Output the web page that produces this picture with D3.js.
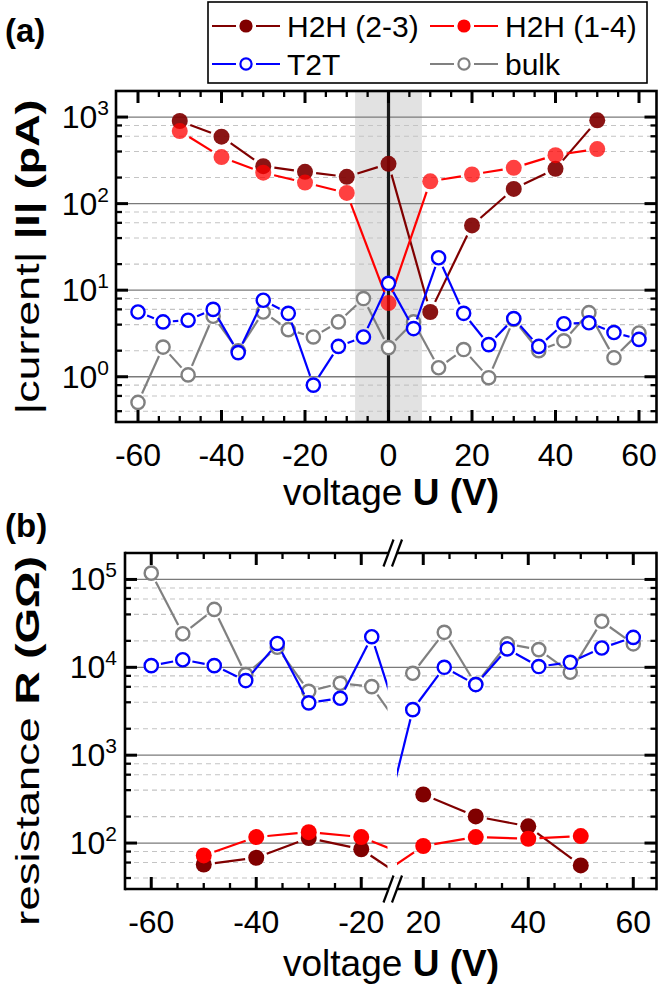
<!DOCTYPE html>
<html><head><meta charset="utf-8">
<script src="https://cdn.jsdelivr.net/npm/d3@7"></script>
<style>body{margin:0;background:#fff} svg{display:block;font-family:Arial,"Liberation Sans",sans-serif}</style>
</head><body><svg id="c" width="658" height="988"></svg>
<script>
// ---------- DATA ----------
// panel (a): |current| (pA)
const voltsH2H_A = [-50,-40,-30,-20,-10,0,10,20,30,40,50];
const h2h23_A = [900,593,271,233,204,288,5.6,56,148,252,916];
const h2h14_A = [689,345,228,175,133,7.1,181,217,259,363,427];
const voltsT2T_A = [-60,-54,-48,-42,-36,-30,-24,-18,-12,-6,0,6,12,18,24,30,36,42,48,54,60];
const t2t_A  = [5.6,4.3,4.5,6.0,1.9,7.65,5.4,0.8,2.24,2.88,12.0,3.6,23.7,5.4,2.35,4.7,2.24,4.1,4.2,3.24,2.7];
const bulk_A = [0.505,2.2,1.05,5.0,2.0,5.6,3.5,2.88,4.3,8.0,2.17,4.3,1.27,2.06,0.975,4.6,2.0,2.6,5.5,1.66,3.2];
const xTicksA = [-60,-40,-20,0,20,40,60];
const yTicksA = [0,1,2,3];      // exponents
// panel (b): resistance (GOhm), left segment and right segment of the broken axis
const vH2H23_BL = [-50,-40,-30,-20,-10];
const h2h23_BL  = [57,68,114,85,34];
const vH2H14_BL = [-50,-40,-30,-20,-10];
const h2h14_BL  = [72.4,117,133,117,67.7];
const vT2T_BL   = [-60,-54,-48,-42,-36,-30,-24,-18,-12];
const t2t_BL    = [10450,12200,10450,7060,18700,3940,4440,22300,1700];
const bulk_BL   = [118000,24100,45600,8260,16900,5330,6580,6030,1870];
const vH2H23_BR = [20,30,40,50];
const h2h23_BR  = [357,201,155,55.7];
const vH2H14_BR = [10,20,30,40,50];
const h2h14_BR  = [36.3,92.5,117,112,120];
const vT2T_BR   = [12,18,24,30,36,42,48,54,60];
const t2t_BR    = [116,3300,10000,6360,16200,10200,11400,16600,21900];
const vBulk_BR  = [18,24,30,36,42,48,54,60];
const bulk_BR   = [8550,25000,6400,18500,15900,8780,33400,18500];
const xTicksBL = [-60,-40,-20];
const xTicksBR = [20,40,60];
const yTicksB = [2,3,4,5];
const legendNames = ["H2H (2-3)","H2H (1-4)","T2T","bulk"];

// ---------- STYLES ----------
const ST = {
  h23:{line:"#800000", fill:"#800000", stroke:"none", r:8, op:0.92, hollow:false},
  h14:{line:"#ff0000", fill:"#ff0000", stroke:"none", r:8, op:0.75, hollow:false},
  t2t:{line:"#0000ff", fill:"#ffffff", stroke:"#0000ff", r:6.6, op:1, hollow:true},
  bulk:{line:"#808080", fill:"#ffffff", stroke:"#808080", r:6.6, op:1, hollow:true}
};
const svg = d3.select("#c");
const FONT = 32;

function seriesDraw(g, xs, ys, xS, yS, st, opOverride){
  const pts = xs.map((x,i)=>[xS(x), yS(ys[i])]);
  const gap = st.r + 3.2;
  const segs = [];
  for(let i=0;i<pts.length-1;i++){
    const [x1,y1]=pts[i],[x2,y2]=pts[i+1];
    const d=Math.hypot(x2-x1,y2-y1); if(d<=2*gap) continue;
    const ux=(x2-x1)/d, uy=(y2-y1)/d;
    segs.push([x1+ux*gap,y1+uy*gap,x2-ux*gap,y2-uy*gap]);
  }
  g.append("g").selectAll("line").data(segs).join("line")
    .attr("x1",d=>d[0]).attr("y1",d=>d[1]).attr("x2",d=>d[2]).attr("y2",d=>d[3])
    .attr("stroke",st.line).attr("stroke-width",2.2);
  g.append("g").selectAll("circle").data(pts).join("circle")
    .attr("cx",d=>d[0]).attr("cy",d=>d[1]).attr("r",st.r)
    .attr("fill",st.fill).attr("fill-opacity",opOverride!=null?opOverride:st.op)
    .attr("stroke",st.stroke).attr("stroke-width",st.hollow?2.4:0);
}

function yLabelsLog(x, exps, yS){
  exps.forEach(e=>{
    const t = svg.append("text").attr("x",x).attr("y",yS(Math.pow(10,e))+11)
      .attr("text-anchor","end").attr("font-size",FONT);
    t.append("tspan").text("10");
    t.append("tspan").attr("dy",-13).attr("font-size",21).text(e);
  });
}
function gridLog(x0,x1,yS,lo,hi){
  const g = svg.append("g");
  for(let e=lo;e<=hi;e++){
    [2,4,6,8].forEach(m=>{
      const v=m*Math.pow(10,e); const y=yS(v);
      if(y>yS.range()[1]+1 && y<yS.range()[0]-1)
        g.append("line").attr("x1",x0).attr("x2",x1).attr("y1",y).attr("y2",y)
         .attr("stroke","#c4c4c4").attr("stroke-width",1.1).attr("stroke-dasharray","5,4");
    });
    const y=yS(Math.pow(10,e));
    if(y>yS.range()[1]+1 && y<yS.range()[0]-1)
      g.append("line").attr("x1",x0).attr("x2",x1).attr("y1",y).attr("y2",y)
       .attr("stroke","#7a7a7a").attr("stroke-width",1.3);
  }
}
function yTicksLog(xl,xr,yS,lo,hi){
  const g=svg.append("g").attr("stroke","#000");
  for(let e=lo;e<=hi;e++){
    [1,2,4,6,8].forEach(m=>{
      const v=m*Math.pow(10,e); const y=yS(v);
      if(y>yS.range()[1]+2 && y<yS.range()[0]-2){
        const L = m===1?12:6, w=m===1?3:2.3;
        g.append("line").attr("x1",xl).attr("x2",xl+L).attr("y1",y).attr("y2",y).attr("stroke-width",w);
        g.append("line").attr("x1",xr).attr("x2",xr-L).attr("y1",y).attr("y2",y).attr("stroke-width",w);
      }
    });
  }
}
function xTicksLin(xS,from,to,yt,yb,majors){
  const g=svg.append("g").attr("stroke","#000");
  for(let v=from; v<=to; v+=5){
    const x=xS(v); const maj = majors.includes(v);
    const L = maj?12:6, w=maj?3:2.3;
    g.append("line").attr("x1",x).attr("x2",x).attr("y1",yt).attr("y2",yt+L).attr("stroke-width",w);
    g.append("line").attr("x1",x).attr("x2",x).attr("y1",yb).attr("y2",yb-L).attr("stroke-width",w);
  }
}

// ================= PANEL (a) =================
const A = {l:116, r:656.5, t:91, b:422};
const xA = d3.scaleLinear().domain([-60,60]).range([138,639]);
const yA = d3.scaleLog().domain([0.3,2000]).range([A.b,A.t]);

svg.append("rect").attr("x",xA(-8)).attr("y",A.t).attr("width",xA(8)-xA(-8)).attr("height",A.b-A.t).attr("fill","#e2e2e2");
gridLog(A.l,A.r,yA,-1,3);
svg.append("line").attr("x1",xA(0)).attr("x2",xA(0)).attr("y1",A.t).attr("y2",A.b).attr("stroke","#1a1a1a").attr("stroke-width",3.2);

const gA = svg.append("g");
seriesDraw(gA, voltsH2H_A, h2h23_A, xA, yA, ST.h23);
seriesDraw(gA, voltsH2H_A, h2h14_A, xA, yA, ST.h14);
seriesDraw(gA, voltsT2T_A, bulk_A, xA, yA, ST.bulk);
seriesDraw(gA, voltsT2T_A, t2t_A, xA, yA, ST.t2t);

xTicksLin(xA,-60,60,A.t,A.b,xTicksA);
yTicksLog(A.l,A.r,yA,-1,3);
svg.append("rect").attr("x",A.l).attr("y",A.t).attr("width",A.r-A.l).attr("height",A.b-A.t)
  .attr("fill","none").attr("stroke","#000").attr("stroke-width",2.6);

svg.append("g").selectAll("text").data(xTicksA).join("text")
  .attr("x",d=>xA(d)).attr("y",A.b+44).attr("text-anchor","middle").attr("font-size",FONT).text(d=>d);
yLabelsLog(A.l-7, yTicksA, yA);

// ================= PANEL (b) =================
const B = {l:125, r:656.5, t:553, b:889};
const xBL = d3.scaleLinear().domain([-65,-15]).range([125,387.5]);
const xBR = d3.scaleLinear().domain([15,64.5]).range([397,656.9]);
const yB = d3.scaleLog().domain([30,2e5]).range([B.b,B.t]);

gridLog(B.l,B.r,yB,1,5);
const defs = svg.append("defs");
defs.append("clipPath").attr("id","clipL").append("rect").attr("x",B.l).attr("y",B.t).attr("width",xBL(-15)-B.l).attr("height",B.b-B.t);
defs.append("clipPath").attr("id","clipR").append("rect").attr("x",xBR(15)).attr("y",B.t).attr("width",B.r-xBR(15)).attr("height",B.b-B.t);

const gL = svg.append("g").attr("clip-path","url(#clipL)");
seriesDraw(gL, vH2H23_BL, h2h23_BL, xBL, yB, ST.h23, 1);
seriesDraw(gL, vH2H14_BL, h2h14_BL, xBL, yB, ST.h14, 1);
seriesDraw(gL, vT2T_BL, bulk_BL, xBL, yB, ST.bulk);
seriesDraw(gL, vT2T_BL, t2t_BL, xBL, yB, ST.t2t);
const gR = svg.append("g").attr("clip-path","url(#clipR)");
seriesDraw(gR, vH2H23_BR, h2h23_BR, xBR, yB, ST.h23, 1);
seriesDraw(gR, vH2H14_BR, h2h14_BR, xBR, yB, ST.h14, 1);
seriesDraw(gR, vBulk_BR, bulk_BR, xBR, yB, ST.bulk);
seriesDraw(gR, vT2T_BR, t2t_BR, xBR, yB, ST.t2t);

xTicksLin(xBL,-60,-20,B.t,B.b,xTicksBL);
xTicksLin(xBR,20,60,B.t,B.b,xTicksBR);
yTicksLog(B.l,B.r,yB,1,5);
// frame with break
const fr = svg.append("g").attr("stroke","#000").attr("stroke-width",2.6).attr("fill","none");
fr.append("line").attr("x1",B.l).attr("x2",B.l).attr("y1",B.t-1.3).attr("y2",B.b+1.3);
fr.append("line").attr("x1",B.r).attr("x2",B.r).attr("y1",B.t-1.3).attr("y2",B.b+1.3);
[B.t,B.b].forEach(y=>{
  fr.append("line").attr("x1",B.l).attr("x2",388.5).attr("y1",y).attr("y2",y);
  fr.append("line").attr("x1",397).attr("x2",B.r).attr("y1",y).attr("y2",y);
  [388.5,397].forEach(cx=>{
    fr.append("line").attr("x1",cx-5).attr("y1",y+13.5).attr("x2",cx+5).attr("y2",y-13.5).attr("stroke-width",2.2);
  });
});
svg.append("g").selectAll("text").data(xTicksBL).join("text")
  .attr("x",d=>xBL(d)).attr("y",B.b+44).attr("text-anchor","middle").attr("font-size",FONT).text(d=>d);
svg.append("g").selectAll("text").data(xTicksBR).join("text")
  .attr("x",d=>xBR(d)).attr("y",B.b+44).attr("text-anchor","middle").attr("font-size",FONT).text(d=>d);
yLabelsLog(B.l-8, yTicksB, yB);

// ================= TITLES =================
function xTitle(y){
  const t=svg.append("text").attr("x",391).attr("y",y).attr("text-anchor","middle").attr("font-size",37);
  t.append("tspan").text("voltage ");
  t.append("tspan").attr("font-weight","bold").text("U (V)");
}
xTitle(505); xTitle(976);
function yTitle(cx,cy,a,b,len){
  const t=svg.append("text").attr("transform",`translate(${cx},${cy}) rotate(-90)`).attr("text-anchor","middle")
    .attr("font-size",33).attr("textLength",len).attr("lengthAdjust","spacingAndGlyphs");
  t.append("tspan").text(a);
  t.append("tspan").attr("font-weight","bold").text(b);
}
yTitle(39,257,"|current| ","|I| (pA)",315);
yTitle(39,741,"resistance ","R (G\u03A9)",370);
svg.append("text").attr("x",5).attr("y",42).attr("font-size",33).attr("font-weight","bold").text("(a)");
svg.append("text").attr("x",5).attr("y",537).attr("font-size",33).attr("font-weight","bold").text("(b)");

// ================= LEGEND =================
const lg = svg.append("g");
lg.append("rect").attr("x",208).attr("y",2).attr("width",439).attr("height",81).attr("fill","#fff").attr("stroke","#000").attr("stroke-width",1.6);
const legItems = [
  {st:ST.h23, x:212, y:26, name:legendNames[0]},
  {st:ST.h14, x:430, y:26, name:legendNames[1]},
  {st:ST.t2t, x:212, y:64, name:legendNames[2]},
  {st:ST.bulk, x:430, y:64, name:legendNames[3]}
];
legItems.forEach(it=>{
  const cx = it.x+34;
  lg.append("line").attr("x1",it.x).attr("x2",cx-10).attr("y1",it.y).attr("y2",it.y).attr("stroke",it.st.line).attr("stroke-width",2);
  lg.append("line").attr("x1",cx+10).attr("x2",it.x+68).attr("y1",it.y).attr("y2",it.y).attr("stroke",it.st.line).attr("stroke-width",2);
  lg.append("circle").attr("cx",cx).attr("cy",it.y).attr("r",it.st.hollow?5.6:6.6)
    .attr("fill",it.st.fill).attr("stroke",it.st.stroke).attr("stroke-width",it.st.hollow?2.2:0);
  lg.append("text").attr("x",it.x+75).attr("y",it.y+11).attr("font-size",30).text(it.name);
});
</script></body></html>
